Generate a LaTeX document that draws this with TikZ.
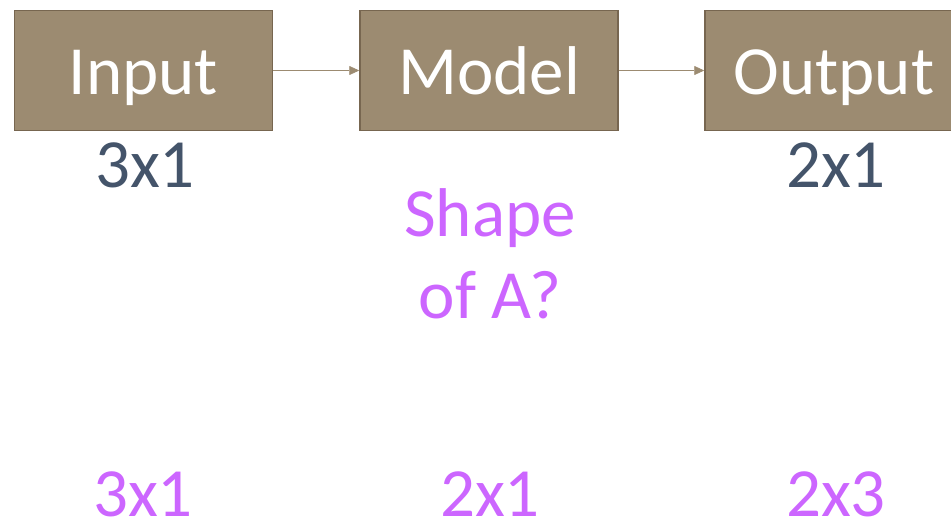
\documentclass[tikz,border=0pt]{standalone}
\usepackage{fontspec}
\setmainfont{Carlito}
\usetikzlibrary{positioning,arrows.meta}
\definecolor{boxfill}{HTML}{9C8B71}
\definecolor{boxline}{HTML}{776650}
\definecolor{dims}{HTML}{44546A}
\definecolor{ask}{HTML}{CC66FF}

\begin{document}
\begin{tikzpicture}[
  x=1pt, y=-1pt,
  stage/.style={draw=boxline, line width=1.5pt, fill=boxfill, text=white,
                minimum width=258pt, minimum height=120pt, inner sep=0pt,
                text height=47pt, text depth=0pt,
                font=\fontsize{69}{82}\selectfont},
  dim/.style={text=dims, anchor=base, inner sep=0pt, font=\fontsize{69}{82}\selectfont},
  guess/.style={text=ask, anchor=base, inner sep=0pt, font=\fontsize{69}{82}\selectfont},
  flow/.style={draw=boxfill, line width=0.8pt, -{Triangle[length=10pt,width=9pt]}}
]
  \useasboundingbox (0,0) rectangle (951,522);
  \clip (0,0) rectangle (951,522);

  % pipeline boxes
  \node[stage] (inp) at (143.5,70.5) {Input};
  \node[stage] (mdl) at (489,70.5) {Model};
  \node[stage] (outp) at (834,70.5) {Output};
  \draw[flow] (inp) -- (mdl);
  \draw[flow] (mdl) -- (outp);

  % sizes under the boxes
  \node[dim] (inpdim) at (145,187) {3x1};
  \node[dim] (outdim) at (836,187) {2x1};
  \node[guess, align=center] (qa) at (490,318) {Shape\\of A?};

  % answers (digits only, no depth below the line)
  \node[guess, text depth=0pt] (ans1) at (143,516) {3x1};
  \node[guess, text depth=0pt] (ans2) at (490,516) {2x1};
  \node[guess, text depth=0pt] (ans3) at (836,516) {2x3};
\end{tikzpicture}
\end{document}
